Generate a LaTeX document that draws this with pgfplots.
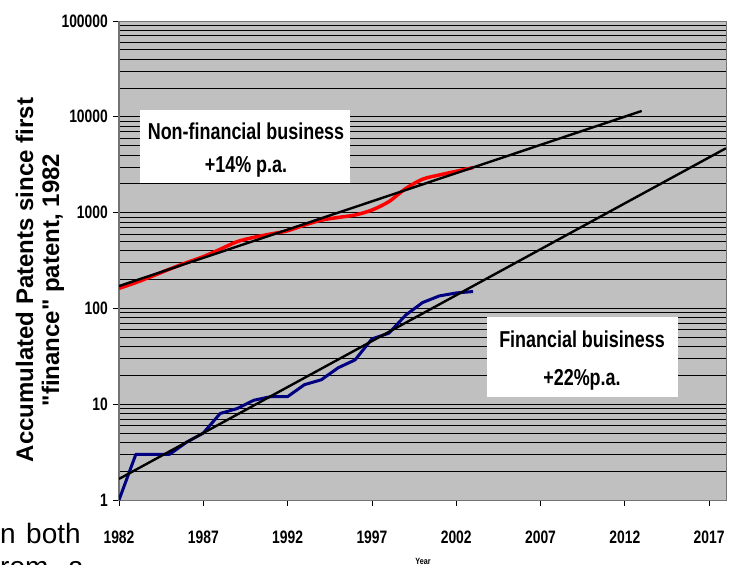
\documentclass[border=0pt]{standalone}
\usepackage{pgfplots}
\pgfplotsset{compat=1.18}
\usepackage{fontspec}
\setmainfont{Liberation Sans}
\usepackage{graphicx}
% narrow, heavy lettering for the chart text
\newcommand\sq[2][0.77]{\scalebox{#1}[1]{#2}}
\definecolor{plotgray}{HTML}{C0C0C0}
\definecolor{navyline}{HTML}{000080}
\definecolor{redline}{HTML}{FF0000}

\begin{document}
\begin{tikzpicture}
\useasboundingbox (0pt,0pt) rectangle (729pt,-565pt);
\begin{axis}[
  at={(119pt,-21pt)}, anchor=north west,
  width=607pt, height=479pt, scale only axis,
  xmin=1982, xmax=2018,
  ymode=log, ymin=1, ymax=100000,
  axis background/.style={fill=plotgray},
  xtick pos=left, ytick pos=left,
  xtick={1982,1987,1992,1997,2002,2007,2012,2017},
  xticklabels={\sq{1982},\sq{1987},\sq{1992},\sq{1997},\sq{2002},\sq{2007},\sq{2012},\sq{2017}},
  ytick={1,10,100,1000,10000,100000},
  yticklabels={\sq{1},\sq{10},\sq{100},\sq{1000},\sq{10000},\sq{100000}},
  minor ytick={2,3,4,5,6,7,8,9,
    20,30,40,50,60,70,80,90,
    200,300,400,500,600,700,800,900,
    2000,3000,4000,5000,6000,7000,8000,9000,
    20000,30000,40000,50000,60000,70000,80000,90000},
  ymajorgrids, yminorgrids,
  major grid style={black, line width=0.8pt},
  minor grid style={black, line width=0.7pt},
  tick align=outside,
  major tick length=6pt,
  minor tick length=0pt,
  tick style={black, line width=0.8pt},
  ticklabel style={font=\fontsize{18}{18}\selectfont\bfseries},
  xticklabel style={anchor=base, yshift=-38pt},
  yticklabel style={anchor=east, inner xsep=0pt, xshift=-5pt},
  axis line style={black!55, line width=1pt},
]
% Non-financial business: accumulated patents
\addplot[redline, line width=3.5pt, smooth, tension=0.5] coordinates {
  (1982,162) (1983,186) (1984,218) (1985,257) (1986,300) (1987,347)
  (1988,414) (1989,497) (1990,552) (1991,598) (1992,646) (1993,742)
  (1994,834) (1995,890) (1996,944) (1997,1064) (1998,1300) (1999,1780)
  (2000,2230) (2001,2470) (2002,2700) (2003,2950)
};
% Financial business: accumulated patents
\addplot[navyline, line width=3pt, line join=round] coordinates {
  (1982,1) (1983,3) (1984,3) (1985,3) (1986,4) (1987,5)
  (1988,8) (1989,9) (1990,11) (1991,12) (1992,12) (1993,16)
  (1994,18) (1995,24) (1996,29) (1997,48) (1998,55) (1999,85)
  (2000,115) (2001,135) (2002,145) (2003,150)
};
% exponential trends
\addplot[black, line width=2.4pt] coordinates {(1982,171) (2013,11500)};
\addplot[black, line width=2.4pt] coordinates {(1982,1.66) (2018,4700)};
\end{axis}

% annotation boxes
\fill[white] (140pt,-110pt) rectangle (350pt,-183pt);
\node[anchor=base, inner sep=0pt, font=\fontsize{23}{23}\selectfont\bfseries] at (246pt,-139pt) {\sq[0.78]{Non-financial business}};
\node[anchor=base, inner sep=0pt, font=\fontsize{23}{23}\selectfont\bfseries] at (246pt,-172pt) {\sq[0.78]{+14\% p.a.}};

\fill[white] (487pt,-317pt) rectangle (678pt,-397pt);
\node[anchor=base, inner sep=0pt, font=\fontsize{23}{23}\selectfont\bfseries] at (582pt,-347pt) {\sq[0.78]{Financial buisiness}};
\node[anchor=base, inner sep=0pt, font=\fontsize{23}{23}\selectfont\bfseries] at (582pt,-385pt) {\sq[0.78]{+22\%p.a.}};

% axis titles
\node[rotate=90, align=center, inner sep=0pt, font=\fontsize{24}{26}\selectfont\bfseries] at (40pt,-280pt)
  {Accumulated Patents since first\\ \textquotedbl finance\textquotedbl{} patent, 1982};
\node[inner sep=0pt, font=\fontsize{9}{9}\selectfont\bfseries] at (423pt,-561pt) {\sq[0.8]{Year}};

% surrounding body text
\node[anchor=base west, inner sep=0pt, font=\fontsize{28}{28}\selectfont] at (0pt,-543pt) {n};
\node[anchor=base west, inner sep=0pt, font=\fontsize{28}{28}\selectfont] at (26pt,-543pt) {both};
\node[anchor=base west, inner sep=0pt, font=\fontsize{28}{28}\selectfont] at (0pt,-576pt) {rom};
\node[anchor=base west, inner sep=0pt, font=\fontsize{28}{28}\selectfont] at (68pt,-576pt) {a};
\end{tikzpicture}
\end{document}
